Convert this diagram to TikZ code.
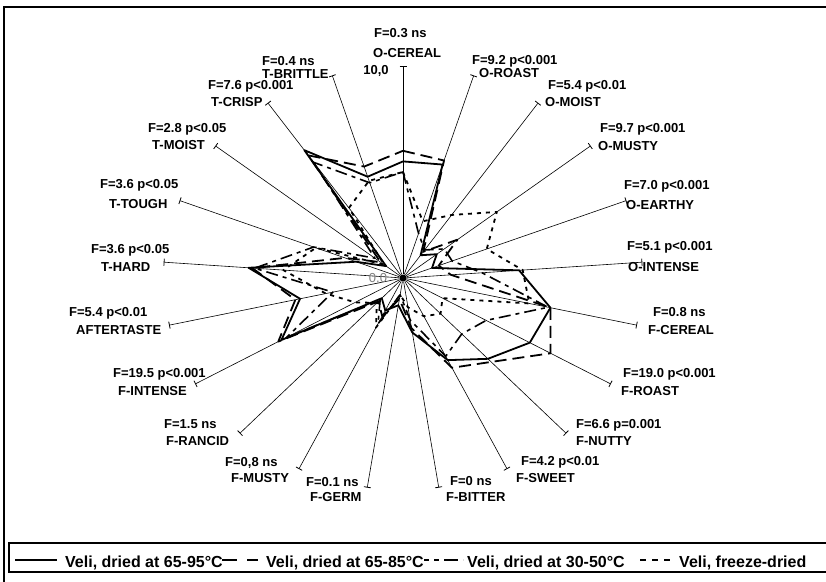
\documentclass[tikz,border=0pt]{standalone}
\usepackage{fontspec}
\setmainfont{Liberation Sans}
\usetikzlibrary{arrows.meta}

\tikzset{
  axisline/.style={line width=0.6pt, -{Bar[width=7pt,line width=0.8pt]}},
  hub/.style={circle, fill=black, inner sep=0pt, minimum size=7pt},
  lbl/.style={font=\bfseries\fontsize{13}{13}\selectfont, inner sep=0pt, anchor=west, text height=9.4pt, text depth=0pt},
  legtxt/.style={font=\bfseries\fontsize{16}{16}\selectfont, inner sep=0pt, anchor=west, text height=11.6pt, text depth=0pt},
  hotdry/.style={line width=1.8pt, line join=round},
  milddry/.style={line width=1.8pt, line join=round, dash pattern=on 12pt off 6pt},
  lowdry/.style={line width=1.6pt, line join=round, dash pattern=on 12pt off 5pt on 4pt off 5pt},
  frzdry/.style={line width=1.8pt, line join=round, dash pattern=on 4pt off 5pt}
}

\begin{document}
\begin{tikzpicture}[x=1pt, y=-1pt]
\useasboundingbox (0,0) rectangle (826,581);

% frame and legend box
\draw[line width=1.5pt] (828,7) -- (4,7) -- (4,583);
\draw[line width=1.5pt] (828,543) -- (9,543) -- (9,572) -- (828,572);

\begin{scope}[shift={(403,278)}, x=24pt, y=21.2pt]
\node[hub] (c) at (0,0) {};
\foreach \k in {0,...,20} {
  \coordinate (e\k) at ({90-\k*360/21}:10);
  \draw[axisline] (c) -- (e\k);
}

% 65-95
\foreach \v [count=\i from 0] in {5.5,5.6,1.3,1.8,1.3,4.85,6.3,6.1,5.2,4.3,2.6,1.3,1.7,1.3,5.85,4.4,6.45,2.1,0.9,7.3,5.0}
  \coordinate (a\i) at ({90-\i*360/21}:\v);
\draw[hotdry] (a0) \foreach \i in {1,...,20} {-- (a\i)} -- cycle;

% 65-85
\foreach \v [count=\i from 0] in {6.0,5.8,1.5,2.9,1.6,2.0,6.3,7.1,5.4,4.7,2.4,1.0,2.0,1.5,6.0,4.6,6.3,2.6,1.2,7.0,5.5}
  \coordinate (b\i) at ({90-\i*360/21}:\v);
\draw[milddry] (b0) \foreach \i in {1,...,20} {-- (b\i)} -- cycle;

% 30-50
\foreach \v [count=\i from 0] in {5.0,2.2,1.6,2.2,2.2,3.3,6.2,4.0,3.6,4.1,2.0,0.8,2.4,1.4,5.6,3.0,6.2,4.0,1.5,6.6,4.7}
  \coordinate (d\i) at ({90-\i*360/21}:\v);
\draw[lowdry] (d0) \foreach \i in {1,...,20} {-- (d\i)} -- cycle;

% freeze-dried
\foreach \v [count=\i from 0] in {5.0,2.8,3.6,5.0,3.75,5.0,5.4,1.9,2.3,2.0,1.4,0.8,2.6,1.6,2.3,3.3,5.0,3.9,1.0,4.0,4.8}
  \coordinate (g\i) at ({90-\i*360/21}:\v);
\draw[frzdry] (g0) \foreach \i in {1,...,20} {-- (g\i)} -- cycle;
\end{scope}

\node[font=\fontsize{13}{13}\selectfont, text=gray, inner sep=0pt] (zero) at (378,279) {0,0};
\node[lbl, anchor=center] (ten) at (376,70) {10,0};

% axis labels
\foreach \k/\ft/\fx/\fy/\nt/\nx/\ny in {
  0/F=0.3 ns/374/33/O-CEREAL/373/53,
  1/F=9.2 p<0.001/472/60/O-ROAST/479/73,
  2/F=5.4 p<0.01/548/85/O-MOIST/545/102,
  3/F=9.7 p<0.001/600/128/O-MUSTY/598/146,
  4/F=7.0 p<0.001/624/185/O-EARTHY/626/205,
  5/F=5.1 p<0.001/627/246/O-INTENSE/628/267,
  6/F=0.8 ns/653/312/F-CEREAL/648/330,
  7/F=19.0 p<0.001/623/373/F-ROAST/621/391,
  8/F=6.6 p=0.001/576/424/F-NUTTY/576/441,
  9/F=4.2 p<0.01/521/461/F-SWEET/516/478,
  10/F=0 ns/450/481/F-BITTER/446/497,
  11/F=0.1 ns/306/482/F-GERM/310/497,
  12/{F=0,8 ns}/225/462/F-MUSTY/231/478,
  13/F=1.5 ns/164/424/F-RANCID/166/441,
  14/F=19.5 p<0.001/113/373/F-INTENSE/118/391,
  15/F=5.4 p<0.01/69/312/AFTERTASTE/76/330,
  16/F=3.6 p<0.05/91/249/T-HARD/101/267,
  17/F=3.6 p<0.05/100/184/T-TOUGH/109/204,
  18/F=2.8 p<0.05/148/128/T-MOIST/152/145,
  19/F=7.6 p<0.001/208/85/T-CRISP/211/102,
  20/F=0.4 ns/262/61/T-BRITTLE/262/74}
{
  \node[lbl] (f\k) at (\fx,\fy) {\ft};
  \node[lbl] (n\k) at (\nx,\ny) {\nt};
}

% legend
\coordinate (s1a) at (15,560);  \coordinate (s1b) at (57,560);
\coordinate (s2a) at (222,560); \coordinate (s2b) at (258,560);
\coordinate (s3a) at (424,560); \coordinate (s3b) at (463,560);
\coordinate (s4a) at (640,560); \coordinate (s4b) at (672,560);
\draw[hotdry] (s1a) -- (s1b);
\draw[milddry, dash pattern=on 15pt off 10pt] (s2a) -- (s2b);
\draw[lowdry, dash pattern=on 5pt off 5pt on 5pt off 5pt on 14pt off 5pt] (s3a) -- (s3b);
\draw[frzdry, dash pattern=on 6pt off 6pt] (s4a) -- (s4b);
\node[legtxt] (l1) at (65,562) {Veli, dried at 65-95°C};
\node[legtxt] (l2) at (266,562) {Veli, dried at 65-85°C};
\node[legtxt] (l3) at (467,562) {Veli, dried at 30-50°C};
\node[legtxt] (l4) at (679,562) {Veli, freeze-dried};
\end{tikzpicture}
\end{document}
